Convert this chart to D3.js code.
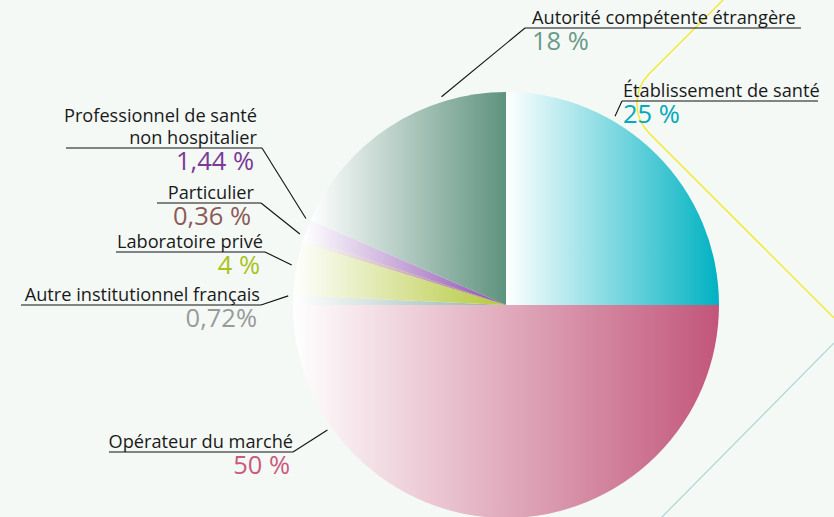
<!DOCTYPE html>
<html lang="fr">
<head>
  <meta charset="UTF-8">
  <title>Répartition des déclarants</title>
  <script src="https://cdn.jsdelivr.net/npm/d3@7"></script>
  <style>
    html, body { margin: 0; padding: 0; background: #f4f9f6; }
    svg { display: block; font-family: "Open Sans", sans-serif; }
  </style>
</head>
<body>
<svg id="chart" width="834" height="517"></svg>
<script>
  // slices, clockwise from 12 o'clock
  const categories = [
    "Établissement de santé",
    "Opérateur du marché",
    "Autre institutionnel français",
    "Laboratoire privé",
    "Particulier",
    "Professionnel de santé\nnon hospitalier",
    "Autorité compétente étrangère"
  ];
  const values = [25, 50, 0.72, 4, 0.36, 1.44, 18.48];
  const valueLabels = ["25 %", "50 %", "0,72%", "4 %", "0,36 %", "1,44 %", "18 %"];

  const sliceColors = ["#00b2c2", "#c2567a", "#8fb2ae", "#b4c83a", "#a06a6a", "#8c4cb0", "#5f927f"];
  const textColors  = ["#00a9bb", "#c95a7e", "#9a9a9a", "#a8c31a", "#8c5a58", "#7a3a96", "#6b9a88"];

  // label placement: baseline of first line, underline extent, leader angle (deg)
  const labelLayout = [
    { side: "right", x: 623, y: 97,  x0: 622, x1: 818, angle: 30 },
    { side: "left",  x: 293, y: 448, x0: 109, x1: 293, angle: 235 },
    { side: "left",  x: 260, y: 301, x0: 21,  x1: 261, angle: 272.4 },
    { side: "left",  x: 263, y: 248, x0: 116, x1: 265, angle: 280.6 },
    { side: "left",  x: 254, y: 199, x0: 157, x1: 261, angle: 289 },
    { side: "left",  x: 257, y: 122, x0: 66,  x1: 262, angle: 293.4 },
    { side: "right", x: 532, y: 24,  x0: 525, x1: 801, angle: 342.8 }
  ];

  const svg = d3.select("#chart");
  const cx = 506, cy = 305, radius = 213;

  // background decoration
  const deco = svg.append("g");
  const yp = d3.path();
  yp.moveTo(723, 0);
  yp.arcTo(619.5, 103.5, 834, 318, 42);
  yp.lineTo(834, 318);
  deco.append("path").attr("d", yp.toString())
    .attr("fill", "none").attr("stroke", "#f2ea1e").attr("stroke-width", 1.3);
  deco.append("line").attr("x1", 834).attr("y1", 343).attr("x2", 660).attr("y2", 519)
    .attr("stroke", "#a6d8d6").attr("stroke-width", 1.2);

  // gradients, white on the left to the slice colour on the right
  const defs = svg.append("defs");
  sliceColors.forEach(function(c, i) {
    const g = defs.append("linearGradient").attr("id", "grad" + i)
      .attr("x1", 0).attr("y1", 0).attr("x2", 1).attr("y2", 0);
    g.append("stop").attr("offset", "0%").attr("stop-color", "#ffffff");
    g.append("stop").attr("offset", "100%").attr("stop-color", c);
  });

  const pie = d3.pie().sort(null).value(d => d);
  const arcs = pie(values);
  const arc = d3.arc().innerRadius(0).outerRadius(radius);

  const pieG = svg.append("g").attr("transform", "translate(" + cx + "," + cy + ")");
  pieG.selectAll("path").data(arcs).enter().append("path")
    .attr("d", arc)
    .attr("fill", (d, i) => "url(#grad" + i + ")");

  // labels
  const labG = svg.append("g");
  arcs.forEach(function(a, i) {
    const L = labelLayout[i];
    const lines = categories[i].split("\n");
    const anchor = L.side === "left" ? "end" : "start";
    const t = labG.append("text")
      .attr("x", L.x).attr("y", L.y)
      .attr("text-anchor", anchor)
      .attr("font-size", 18.2).attr("font-weight", 500).attr("fill", "#1a1a1a");
    lines.forEach(function(s, k) {
      t.append("tspan").attr("x", L.x).attr("dy", k === 0 ? 0 : 22).text(s);
    });
    const lastBase = L.y + (lines.length - 1) * 22;
    const uy = lastBase + 4;

    labG.append("line")
      .attr("x1", L.x0).attr("x2", L.x1).attr("y1", uy).attr("y2", uy)
      .attr("stroke", "#111").attr("stroke-width", 1.2);

    const ang = L.angle * Math.PI / 180;
    const p = d3.pointRadial(ang, radius + 5);
    const sx = L.side === "left" ? L.x1 : L.x0;
    labG.append("line")
      .attr("x1", sx).attr("y1", uy)
      .attr("x2", cx + p[0]).attr("y2", cy + p[1])
      .attr("stroke", "#111").attr("stroke-width", 1.1);

    labG.append("text")
      .attr("x", L.side === "left" ? L.x - 3 : L.x)
      .attr("y", uy + 22)
      .attr("text-anchor", anchor)
      .attr("font-size", 25.5).attr("font-weight", 500)
      .attr("fill", textColors[i])
      .text(valueLabels[i]);
  });
</script>
</body>
</html>
